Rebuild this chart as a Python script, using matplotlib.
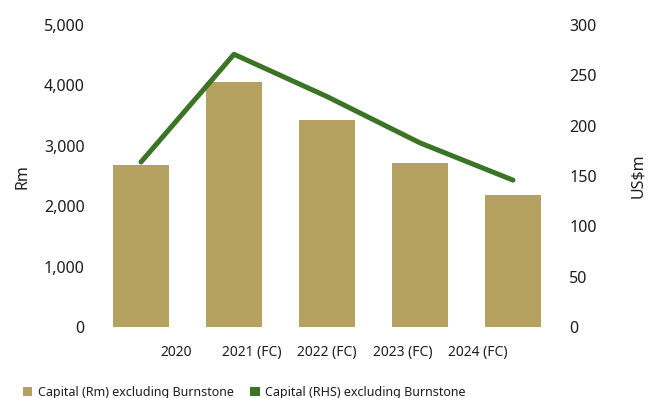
import matplotlib
matplotlib.use("Agg")
import matplotlib.pyplot as plt
import numpy as np
from matplotlib.patches import Patch

categories = ["2020", "2021 (FC)", "2022 (FC)", "2023 (FC)", "2024 (FC)"]
capital_rm = [2680, 4055, 3425, 2715, 2185]
capital_usd = [164, 271, 229, 183, 146]
left_ticks = [0, 1000, 2000, 3000, 4000, 5000]
right_ticks = [0, 50, 100, 150, 200, 250, 300]
series_names = ["Capital (Rm) excluding Burnstone", "Capital (RHS) excluding Burnstone"]

bar_color = "#B5A160"
line_color = "#3A7424"
text_color = "#1E1E1E"

plt.rcParams['font.family'] = ['Noto Sans', 'DejaVu Sans']

fig = plt.figure(figsize=(6.54, 3.98), dpi=100)
ax = fig.add_axes([0.1445, 0.178, 0.711, 0.759])
x = np.arange(len(categories))
ax.bar(x, capital_rm, width=0.6, color=bar_color, zorder=1)
ax.set_ylim(0, 5000)
ax.set_xlim(-0.5, len(categories) - 0.5)
ax.set_yticks(left_ticks)
ax.set_yticklabels([f"{v:,}" for v in left_ticks], fontsize=11.5, color=text_color)
ax.set_ylabel("Rm", fontsize=11.5, color=text_color, labelpad=10)
ax.tick_params(axis='y', length=0, pad=7)
ax.set_xticks([])
for s in ax.spines.values():
    s.set_visible(False)

# category labels (rendered compressed relative to bars, as in reference)
for i, lab in enumerate(categories):
    xl = 2 + (i - 2) * 0.81
    ax.text(xl, -0.085, lab, transform=ax.get_xaxis_transform(), ha='center', va='center',
            fontsize=10, color=text_color)

ax2 = ax.twinx()
ax2.plot(x, capital_usd, color=line_color, linewidth=3.6, solid_capstyle='round', solid_joinstyle='round', zorder=3)
ax2.set_ylim(0, 300)
ax2.set_yticks(right_ticks)
ax2.set_yticklabels([str(v) for v in right_ticks], fontsize=11.5, color=text_color)
ax2.set_ylabel("US$m", fontsize=11.5, color=text_color, labelpad=24)
ax2.tick_params(axis='y', length=0, pad=7)
for s in ax2.spines.values():
    s.set_visible(False)

handles = [Patch(facecolor=bar_color, edgecolor='none'), Patch(facecolor=line_color, edgecolor='none')]
fig.legend(handles, series_names, loc='lower left', bbox_to_anchor=(0.018, -0.03), ncol=2,
           frameon=False, fontsize=9, handlelength=0.75, handleheight=0.75, handletextpad=0.45,
           columnspacing=1.3, labelcolor=text_color)

fig.savefig("out.png", dpi=100)
